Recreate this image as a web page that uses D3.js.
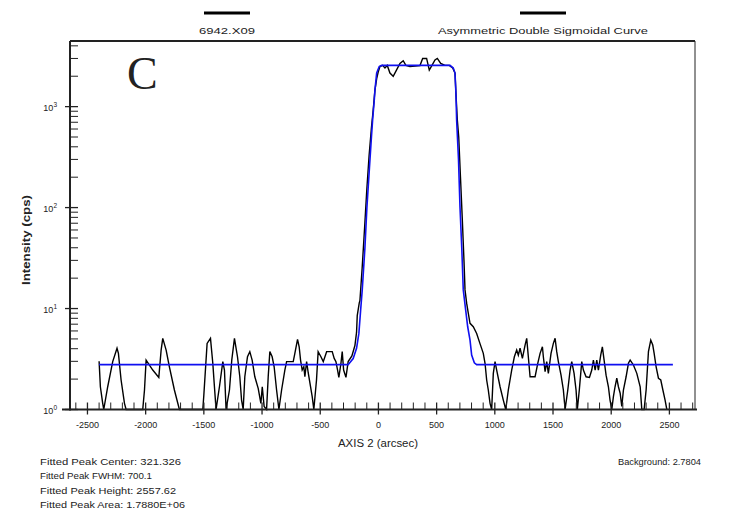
<!DOCTYPE html>
<html><head><meta charset="utf-8">
<script src="https://cdn.jsdelivr.net/npm/d3@7"></script>
<style>body{margin:0;background:#fff}svg{display:block}text{font-family:"Liberation Sans",Arial,sans-serif;fill:#222}</style>
</head><body>
<script>
// ---- data ----
const dataX = [-2400,-2389,-2369,-2360,-2326,-2283,-2246,-2234,-2211,-2182,-2168,-2025,-2010,-1996,-1939,-1887,-1867,-1853,-1824,-1796,-1753,-1710,-1509,-1500,-1472,-1443,-1423,-1409,-1395,-1366,-1337,-1323,-1309,-1280,-1260,-1237,-1211,-1191,-1176,-1162,-1148,-1125,-1105,-1085,-1062,-1033,-1010,-998,-982,-961,-947,-933,-913,-896,-875,-855,-832,-804,-789,-732,-718,-695,-681,-669,-655,-641,-632,-617,-603,-569,-555,-532,-518,-494,-474,-445,-397,-380,-365,-351,-340,-322,-311,-299,-279,-260,-228,-202,-188,-182,-165,-159,-140,-120,-100,-80,-60,-45,-30,-15,-2,13,36,56,76,99,127,155,185,213,236,271,357,380,414,437,460,486,506,535,572,609,638,658,666,678,690,705,720,735,744,758,772,787,815,844,872,901,916,930,944,959,973,987,1002,1016,1045,1073,1094,1116,1145,1168,1188,1202,1217,1237,1260,1274,1288,1303,1346,1369,1389,1409,1417,1432,1446,1460,1483,1503,1518,1532,1546,1569,1589,1604,1627,1647,1661,1681,1698,1709,1726,1747,1761,1784,1813,1833,1847,1862,1876,1890,1910,1924,1939,1956,1976,1990,2005,2019,2033,2048,2062,2077,2091,2105,2128,2148,2163,2191,2220,2249,2263,2283,2300,2320,2340,2357,2369,2386,2406,2426,2444,2463,2478];
const dataY = [3.0,1.68,1.15,1,1.68,2.98,4.04,3.6,1.96,1.15,1,1,1.56,3.09,2.46,2.08,3.88,5.07,3.88,2.65,1.56,1,1,1.39,4.52,5.07,2.87,1.68,1,1.68,2.98,2.46,1,1.56,3.09,5.07,3.33,2.11,1.24,1,2.11,3.33,3.74,3.09,2.11,1.62,1.15,1.68,1.07,1,2.11,3.74,3.33,2.65,1.56,1,1.56,2.46,2.98,2.98,3.6,4.95,4.18,3.09,2.46,2.65,2.11,2.98,2.3,1.34,1,1.96,3.74,3.33,2.98,3.74,3.74,3.21,2.98,2.46,2.08,2.87,3.74,2.46,2.08,2.98,3.4,4.3,5.8,8.5,11.3,12,25,60,150,330,620,922,1455,1890,2200,2494,2560,2411,2557,2150,2000,2300,2680,2850,2560,2494,2550,3000,3000,2300,2560,2900,3000,2680,2560,2560,2411,2150,1350,735,500,200,80,30,15.3,11.3,9,7.14,6.6,5.67,4.52,3.6,2.87,1.96,1.56,1.15,1,2.28,2.98,2.46,1.68,1.24,1,1.56,2.46,3.33,3.88,3.45,4.04,3.21,4.35,5.07,3.33,2.11,2.11,2.87,3.6,4.18,3.33,2.37,2.98,2.28,3.6,4.52,5.07,3.74,2.98,2.19,1.56,1,1.56,2.46,2.98,2.28,1.56,1,1.56,2.98,2.46,2.11,2.08,2.46,3.09,2.46,3.09,2.46,3.46,4.18,3.09,2.19,1.68,1.24,1,1.34,1.68,2.04,1.68,1.45,1.07,1.56,2.11,2.87,3.09,2.76,2.28,1.68,1,1,1.56,3.74,4.87,4.35,3.6,2.65,2.04,1.96,1.56,1.24,1];
const fitX = [-2400,-260,-217,-188,-168,-153,-139,-116,-99,-77,-60,-50,-36,-30,-15,7,27,615,643,658,666,672,688,701,716,729,750,767,787,801,824,844,2530];
const fitY = [2.78,2.78,3.2,4.04,5.67,9.6,15.3,40,100,250,500,735,1150,1455,2150,2494,2560,2560,2411,2150,1350,735,300,100,40,15.3,9.6,6.6,4.87,3.46,2.9,2.78,2.78];
const xTicks = [-2500,-2000,-1500,-1000,-500,0,500,1000,1500,2000,2500];
const yDecades = [0,1,2,3];
const legendLabels = ["6942.X09","Asymmetric Double Sigmoidal Curve"];
const statsLeft = ["Fitted Peak Center:  321.326","Fitted Peak FWHM:  700.1","Fitted Peak Height:  2557.62","Fitted Peak Area:  1.7880E+06"];
const statsRight = "Background:  2.7804";

const W=738,H=524;
const svg=d3.select("body").append("svg").attr("width",W).attr("height",H);
const L=70,R=695,T=41,B=409.5;
const x=d3.scaleLinear().domain([-2650,2720]).range([L,R]);
const y=d3.scaleLog().domain([1,Math.pow(10,3.65)]).range([B,T]);

// data lines
const clip = v=>Math.max(1,v);
const line=d3.line().x(d=>x(d[0])).y(d=>y(clip(d[1])));
svg.append("path").datum(dataX.map((v,i)=>[v,dataY[i]])).attr("d",line)
  .attr("fill","none").attr("stroke","#000").attr("stroke-width",1.4);
svg.append("path").datum(fitX.map((v,i)=>[v,fitY[i]])).attr("d",line)
  .attr("fill","none").attr("stroke","#1010f0").attr("stroke-width",1.6);

// frame
svg.append("line").attr("x1",L).attr("x2",R).attr("y1",T).attr("y2",T).attr("stroke","#222").attr("stroke-width",2);
svg.append("line").attr("x1",R).attr("x2",R).attr("y1",T).attr("y2",B).attr("stroke","#222").attr("stroke-width",1);
svg.append("line").attr("x1",L).attr("x2",L).attr("y1",T).attr("y2",B+1).attr("stroke","#222").attr("stroke-width",2);
svg.append("line").attr("x1",L-8).attr("x2",R+2).attr("y1",B).attr("y2",B).attr("stroke","#222").attr("stroke-width",2);

// x minor ticks (inward) and majors (crossing)
const minor = d3.range(-2600,2701,100).filter(v=>v%500!==0);
svg.selectAll(".xm").data(minor).enter().append("line")
  .attr("x1",d=>x(d)).attr("x2",d=>x(d)).attr("y1",B).attr("y2",B-7).attr("stroke","#222").attr("stroke-width",1);
svg.selectAll(".xM").data(xTicks).enter().append("line")
  .attr("x1",d=>x(d)).attr("x2",d=>x(d)).attr("y1",B-7).attr("y2",B+5).attr("stroke","#222").attr("stroke-width",1.3);
svg.selectAll(".xl").data(xTicks).enter().append("text")
  .attr("x",d=>x(d)).attr("y",428).attr("text-anchor","middle").attr("font-size",9).text(d=>d);
svg.append("text").attr("x",378).attr("y",447).attr("text-anchor","middle").attr("font-size",10)
  .attr("textLength",80).attr("lengthAdjust","spacingAndGlyphs").text("AXIS 2  (arcsec)");

// y ticks
const yMinor=[];
yDecades.forEach(e=>{for(let m=2;m<=9;m++){const v=m*Math.pow(10,e); if(v<y.domain()[1]) yMinor.push(v);}});
svg.selectAll(".ym").data(yMinor).enter().append("line")
  .attr("x1",L).attr("x2",L+8).attr("y1",d=>y(d)).attr("y2",d=>y(d)).attr("stroke","#222").attr("stroke-width",1);
svg.selectAll(".yM").data(yDecades).enter().append("line")
  .attr("x1",L-5).attr("x2",L+8).attr("y1",d=>y(Math.pow(10,d))).attr("y2",d=>y(Math.pow(10,d))).attr("stroke","#222").attr("stroke-width",1.3);
const yl=svg.selectAll(".yl").data(yDecades).enter().append("text")
  .attr("x",57).attr("y",d=>y(Math.pow(10,d))+4).attr("text-anchor","end").attr("font-size",9);
yl.append("tspan").text("10");
yl.append("tspan").attr("dy",-4).attr("font-size",6.5).text(d=>d);
svg.append("text").attr("transform","translate(30,240) rotate(-90)").attr("text-anchor","middle")
  .attr("font-size",10).attr("font-weight","bold").attr("textLength",90).attr("lengthAdjust","spacingAndGlyphs").text("Intensity (cps)");

// legend
const legX=[227,543], legW=[56,210];
legendLabels.forEach((t,i)=>{
  svg.append("line").attr("x1",legX[i]-23).attr("x2",legX[i]+23).attr("y1",13).attr("y2",13).attr("stroke","#000").attr("stroke-width",3);
  svg.append("text").attr("x",legX[i]).attr("y",34).attr("text-anchor","middle").attr("font-size",9.5)
    .attr("textLength",legW[i]).attr("lengthAdjust","spacingAndGlyphs").text(t);
});

// panel letter
svg.append("text").attr("x",127).attr("y",89)
  .attr("font-size",46).style("font-family","'Liberation Serif',serif").text("C");

// stats
const statW=[141,112,136,145];
statsLeft.forEach((t,i)=>svg.append("text").attr("x",40).attr("y",464.5+i*14.6).attr("font-size",9.5)
  .attr("textLength",statW[i]).attr("lengthAdjust","spacingAndGlyphs").text(t));
svg.append("text").attr("x",618).attr("y",464.5).attr("font-size",9.5)
  .attr("textLength",83).attr("lengthAdjust","spacingAndGlyphs").text(statsRight);
</script>
</body></html>
